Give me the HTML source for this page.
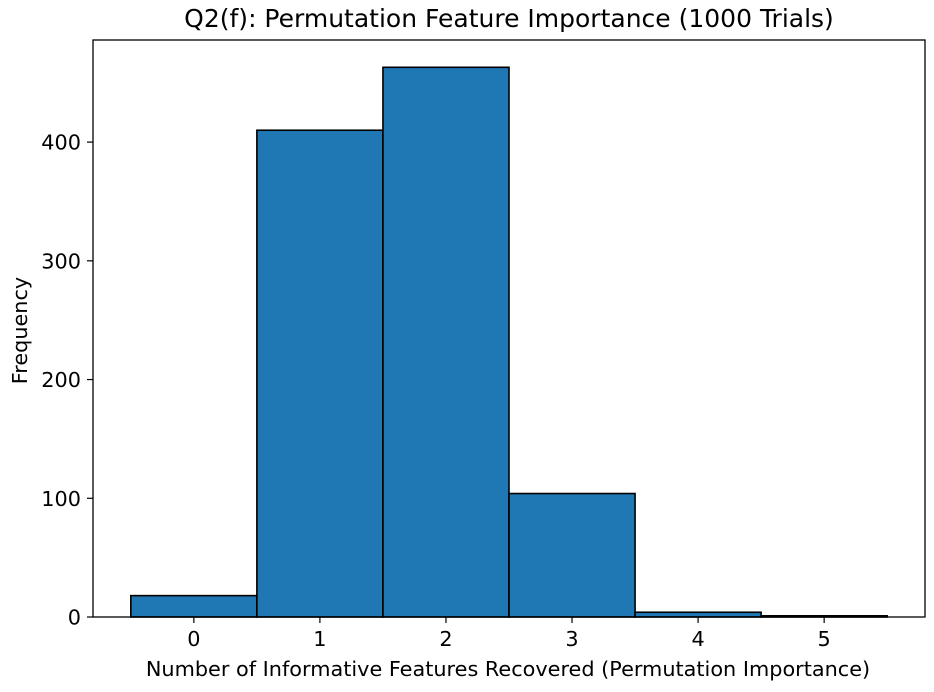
<!DOCTYPE html>
<html><head><meta charset="utf-8">
<style>
html,body{margin:0;padding:0;background:#fff;}
svg{display:block;font-family:"DejaVu Sans","Liberation Sans",sans-serif;}
</style></head>
<body>
<svg id="chart" width="934" height="692" viewBox="0 0 934 692">
<g id="bars"></g>
<g id="axes"></g>
</svg>
<script>
const categories = [0, 1, 2, 3, 4, 5];
const frequencies = [18, 410, 463, 104, 4, 1];
const xTicks = [0, 1, 2, 3, 4, 5];
const yTicks = [0, 100, 200, 300, 400];

const L = 93, R = 925, T = 40, B = 617;
const xMin = -0.8, xMax = 5.8, yMin = 0, yMax = 486;
const xs = v => L + (v - xMin) / (xMax - xMin) * (R - L);
const ys = v => B - (v - yMin) / (yMax - yMin) * (B - T);
const NS = "http://www.w3.org/2000/svg";
function mk(tag, attrs, parent) {
  const e = document.createElementNS(NS, tag);
  for (const k in attrs) e.setAttribute(k, attrs[k]);
  parent.appendChild(e);
  return e;
}
const bars = document.getElementById('bars');
const axes = document.getElementById('axes');
const svg = document.getElementById('chart');

categories.forEach((c, i) => {
  const x0 = xs(c - 0.5), x1 = xs(c + 0.5), y = ys(frequencies[i]);
  const r = mk('rect', {x: x0, y: y, width: x1 - x0, height: ys(0) - y, fill: '#1f77b4', stroke: '#000', 'stroke-width': 1.6}, bars);
  
  
});

const frame = mk('rect', {x: L, y: T, width: R - L, height: B - T, fill: 'none', stroke: '#000', 'stroke-width': 1.3}, axes);



xTicks.forEach(t => {
  const x = xs(t);
  mk('line', {x1: x, x2: x, y1: B, y2: B + 6, stroke: '#000', 'stroke-width': 1.2}, axes);
  const tx = mk('text', {x: x, y: B + 29, 'text-anchor': 'middle', 'font-size': 20.8, fill: '#000'}, axes);
  tx.textContent = t;
  
  
});
yTicks.forEach(t => {
  const y = ys(t);
  mk('line', {x1: L - 6, x2: L, y1: y, y2: y, stroke: '#000', 'stroke-width': 1.2}, axes);
  const tx = mk('text', {x: L - 12, y: y + 7.5, 'text-anchor': 'end', 'font-size': 20.8, fill: '#000'}, axes);
  tx.textContent = t;
  
  
});

const title = mk('text', {x: (L + R) / 2, y: 27, 'text-anchor': 'middle', 'font-size': 25, fill: '#000'}, svg);
title.textContent = 'Q2(f): Permutation Feature Importance (1000 Trials)';



const xl = mk('text', {x: (L + R) / 2 - 1, y: 676, 'text-anchor': 'middle', 'font-size': 20.8, fill: '#000'}, svg);
xl.textContent = 'Number of Informative Features Recovered (Permutation Importance)';



const yl = mk('text', {x: 0, y: 0, 'text-anchor': 'middle', 'font-size': 20.8, fill: '#000', transform: 'translate(27,' + ((T + B) / 2 + 2) + ') rotate(-90)'}, svg);
yl.textContent = 'Frequency';


</script>
</body></html>
